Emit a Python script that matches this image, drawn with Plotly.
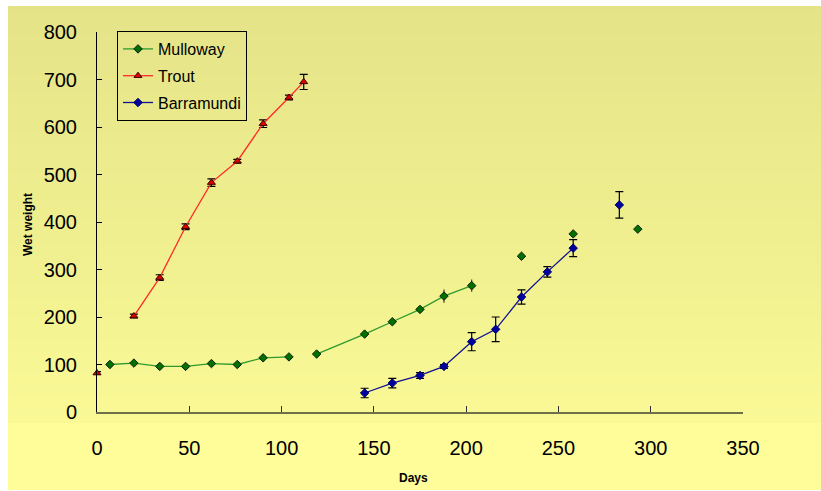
import plotly.graph_objects as go

# ---- data ----
days = [0, 7, 20, 34, 48, 62, 76, 90, 104, 112, 119, 145, 160, 175, 188, 203,
        216, 230, 244, 258, 270, 283, 293]
mulloway = [None, 100, 103, 96, 96, 102, 100, 114, 116, None, 122, 164, 190, 216, 244, 266,
            None, 328, None, 375, None, None, 385]
mulloway_err = [None, 3, 3, 3, 3, 3, 3, 3, 3, None, 3, 3, 4, 4, 14, 13,
                None, 3, None, 6, None, None, 3]
trout = [82, None, 202, 283, 390, 483, 528, 607, 662, 695, None, None, None, None, None, None,
         None, None, None, None, None, None, None]
trout_err = [3, None, 4, 6, 6, 8, 4, 8, 5, 16, None, None, None, None, None, None,
             None, None, None, None, None, None, None]
barramundi = [None, None, None, None, None, None, None, None, None, None, None, 40, 61, 77, 96, 148,
              174, 242, 295, 345, None, 436, None]
barramundi_err = [None, None, None, None, None, None, None, None, None, None, None, 10, 10, 6, 4, 19,
                  26, 15, 11, 18, None, 28, None]

x_ticks = [0, 50, 100, 150, 200, 250, 300, 350]
y_ticks = [0, 100, 200, 300, 400, 500, 600, 700, 800]

FONT = "Arial, Liberation Sans, sans-serif"

fig = go.Figure()

fig.add_trace(go.Scatter(
    x=days, y=mulloway, name="Mulloway", mode="lines+markers", legendgroup="m",
    line=dict(color="#2E9A2E", width=1.3),
    marker=dict(symbol="diamond", size=6.5, color="#007000", line=dict(color="#102010", width=1)),
    error_y=dict(type="data", array=mulloway_err, color="#404040", thickness=1.2, width=0),
    connectgaps=False, cliponaxis=False,
))
fig.add_trace(go.Scatter(
    x=days, y=trout, name="Trout", mode="lines+markers", legendgroup="t",
    line=dict(color="#FF2A2A", width=1.3),
    marker=dict(symbol="triangle-up", size=7, color="#E00000", line=dict(color="#400000", width=1)),
    error_y=dict(type="data", array=trout_err, color="#000000", thickness=1.2, width=4),
    connectgaps=False, cliponaxis=False,
))
fig.add_trace(go.Scatter(
    x=days, y=barramundi, name="Barramundi", mode="lines+markers", legendgroup="b",
    line=dict(color="#101090", width=1.3),
    marker=dict(symbol="diamond", size=6.5, color="#0000A0", line=dict(color="#000060", width=1)),
    error_y=dict(type="data", array=barramundi_err, color="#000000", thickness=1.2, width=4),
    connectgaps=False, cliponaxis=False,
))

# ---- background gradient (pixel geometry -> paper coords) ----
L, R, T, B = 97, 78, 32, 79
W, H = 821, 491
pw, ph = W - L - R, H - T - B


def px2x(px):
    return (px - L) / pw


def py2y(py):
    return (H - B - py) / ph


shapes = []
top_c = (228, 227, 136)
bot_c = (250, 249, 150)
y0p, y1p = 6, 423
n = 60
for i in range(n):
    a = y0p + (y1p - y0p) * i / n
    b = y0p + (y1p - y0p) * (i + 1) / n + 0.8
    t = (i + 0.5) / n
    c = tuple(round(top_c[k] + (bot_c[k] - top_c[k]) * t) for k in range(3))
    shapes.append(dict(type="rect", xref="paper", yref="paper", layer="below",
                       x0=px2x(8), x1=px2x(822), y0=py2y(b), y1=py2y(a),
                       fillcolor="rgb(%d,%d,%d)" % c, line=dict(width=0)))
shapes.append(dict(type="rect", xref="paper", yref="paper", layer="below",
                   x0=px2x(8), x1=px2x(822), y0=py2y(490), y1=py2y(423),
                   fillcolor="rgb(254,253,153)", line=dict(width=0)))

fig.update_layout(
    width=W, height=H,
    margin=dict(l=L, r=R, t=T, b=B),
    paper_bgcolor="white",
    plot_bgcolor="rgba(0,0,0,0)",
    shapes=shapes,
    showlegend=True,
    legend=dict(x=px2x(117), y=py2y(31), xanchor="left", yanchor="top",
                bgcolor="rgba(0,0,0,0)", bordercolor="black", borderwidth=1,
                font=dict(family=FONT, size=16, color="black"),
                tracegroupgap=3, itemwidth=30),
    xaxis=dict(range=[0, 350], tickvals=x_ticks, showgrid=False, zeroline=False,
               showline=True, linecolor="#6E6E48", linewidth=2,
               ticks="inside", ticklen=6, tickcolor="#303030", tickwidth=1,
               tickfont=dict(family=FONT, size=20, color="black"),
               ticklabelstandoff=17),
    yaxis=dict(range=[0, 800], tickvals=y_ticks, showgrid=False, zeroline=False,
               showline=True, linecolor="black", linewidth=1,
               ticks="inside", ticklen=5, tickcolor="black", tickwidth=1,
               tickfont=dict(family=FONT, size=20, color="black"),
               ticklabelstandoff=15),
    annotations=[
        dict(text="<b>Wet weight</b>", x=px2x(28), y=py2y(225), xref="paper", yref="paper",
             xanchor="center", yanchor="middle",
             showarrow=False, textangle=-90, font=dict(family=FONT, size=12, color="black")),
        dict(text="<b>Days</b>", x=px2x(413), y=py2y(478), xref="paper", yref="paper",
             xanchor="center", yanchor="middle",
             showarrow=False, font=dict(family=FONT, size=12, color="black")),
    ],
)

fig.write_html("out.html")
